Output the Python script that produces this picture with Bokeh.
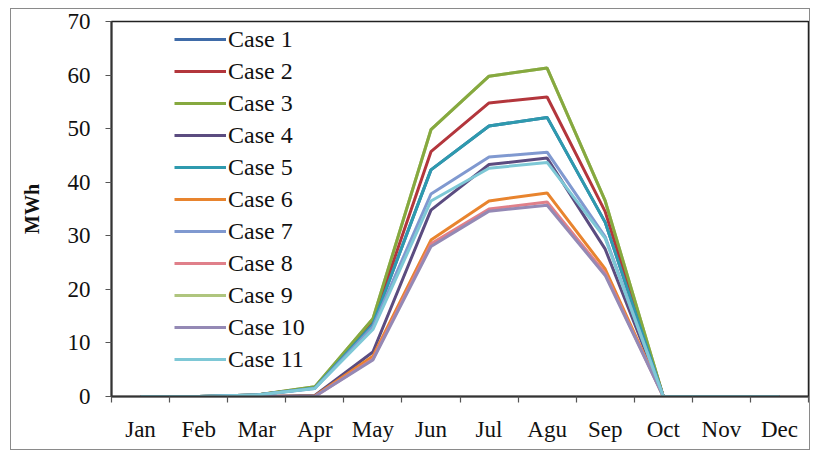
from bokeh.plotting import figure
from bokeh.models import FixedTicker, Legend, LegendItem
from bokeh.embed import file_html
from bokeh.resources import INLINE

months = ["Jan", "Feb", "Mar", "Apr", "May", "Jun", "Jul", "Agu", "Sep", "Oct", "Nov", "Dec"]
y_ticks = [0, 10, 20, 30, 40, 50, 60, 70]

case_names = ["Case 1", "Case 2", "Case 3", "Case 4", "Case 5", "Case 6",
              "Case 7", "Case 8", "Case 9", "Case 10", "Case 11"]

case1 = [0, 0, 0.3, 1.6, 13.5, 42.3, 50.5, 52.1, 32.5, 0, 0, 0]
case2 = [0, 0, 0.3, 1.7, 14.0, 45.7, 54.8, 55.9, 34.5, 0, 0, 0]
case3 = [0, 0, 0.3, 1.8, 14.5, 49.8, 59.8, 61.3, 36.5, 0, 0, 0]
case4 = [0, 0, 0.0, 0.2, 8.3, 34.8, 43.3, 44.5, 27.5, 0, 0, 0]
case5 = [0, 0, 0.3, 1.6, 13.5, 42.3, 50.5, 52.1, 32.5, 0, 0, 0]
case6 = [0, 0, 0.0, 0.1, 7.5, 29.2, 36.5, 38.0, 23.8, 0, 0, 0]
case7 = [0, 0, 0.3, 1.5, 13.0, 37.8, 44.7, 45.6, 29.8, 0, 0, 0]
case8 = [0, 0, 0.0, 0.0, 7.0, 28.5, 35.0, 36.3, 23.0, 0, 0, 0]
case9 = [0, 0, 0.3, 1.8, 14.5, 49.8, 59.8, 61.3, 36.5, 0, 0, 0]
case10 = [0, 0, 0.0, 0.0, 6.8, 28.0, 34.6, 35.7, 22.6, 0, 0, 0]
case11 = [0, 0, 0.3, 1.5, 12.5, 36.5, 42.6, 43.7, 29.5, 0, 0, 0]

series = [case1, case2, case3, case4, case5, case6, case7, case8, case9, case10, case11]
colors = ["#3F6BA8", "#B3363C", "#86A93F", "#5B4C80", "#2E9AAE", "#E8842E",
          "#8099D0", "#E0808A", "#AFC57E", "#9489B5", "#7EC8D6"]
# drawing order (hidden series go underneath)
draw_order = [8, 0, 1, 2, 3, 4, 5, 6, 7, 9, 10]

xs = [i + 0.5 for i in range(len(months))]

FONT = "Liberation Serif"

p = figure(width=800, height=442, x_range=(0, 12), y_range=(0, 70),
           output_backend="svg", toolbar_location=None,
           min_border_left=100, min_border_right=3, min_border_top=12, min_border_bottom=55)

p.xgrid.visible = False
p.ygrid.visible = False
p.outline_line_color = "#222222"
p.outline_line_width = 1.5
p.background_fill_color = "white"
p.border_fill_color = "white"
p.styles = {"border": "1.5px solid #8a8a8a", "margin-left": "10px", "margin-top": "8px"}

renderers = {}
for i in draw_order:
    r = p.line(xs, series[i], line_color=colors[i], line_width=3)
    renderers[i] = r

items = [LegendItem(label=case_names[i], renderers=[renderers[i]]) for i in range(len(series))]
legend = Legend(items=items, location=(63, 22))
legend.border_line_alpha = 0
legend.background_fill_alpha = 0
legend.padding = 0
legend.margin = 0
legend.spacing = 2
legend.glyph_width = 52
legend.glyph_height = 30
legend.label_height = 30
legend.label_standoff = 2
legend.label_text_font = FONT
legend.label_text_font_size = "24px"
legend.label_text_color = "#111111"
p.add_layout(legend)

# x axis
xa = p.xaxis[0]
xa.ticker = FixedTicker(ticks=xs, minor_ticks=list(range(len(months) + 1)))
xa.major_label_overrides = {x: m for x, m in zip(xs, months)}
xa.major_tick_out = 0
xa.major_tick_in = 0
xa.minor_tick_out = 6
xa.minor_tick_in = 0
xa.minor_tick_line_color = "#555555"
xa.minor_tick_line_width = 1.2
xa.axis_line_color = "#333333"
xa.axis_line_width = 2
xa.major_label_text_font = FONT
xa.major_label_text_font_size = "23px"
xa.major_label_text_color = "#111111"
xa.major_label_standoff = 14

# y axis
ya = p.yaxis[0]
ya.ticker = FixedTicker(ticks=y_ticks, minor_ticks=[])
ya.major_tick_out = 6
ya.major_tick_in = 0
ya.major_tick_line_color = "#555555"
ya.major_tick_line_width = 1.2
ya.axis_line_color = "#333333"
ya.axis_line_width = 2
ya.major_label_text_font = FONT
ya.major_label_text_font_size = "23px"
ya.major_label_text_color = "#111111"
ya.major_label_standoff = 15
ya.axis_label = "MWh"
ya.axis_label_text_font = FONT
ya.axis_label_text_font_size = "20px"
ya.axis_label_text_font_style = "bold"
ya.axis_label_text_color = "#111111"
ya.axis_label_standoff = 22

open("out.html", "w").write(file_html(p, INLINE))
